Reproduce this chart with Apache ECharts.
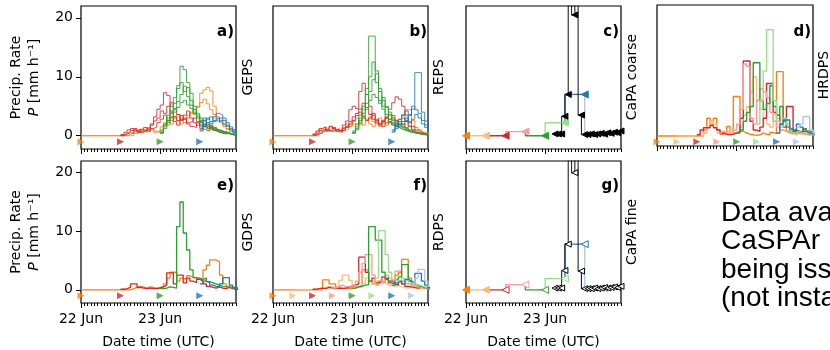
<!DOCTYPE html>
<html>
<head>
<meta charset="utf-8">
<script src="https://cdn.jsdelivr.net/npm/echarts@6/dist/echarts.min.js"></script>
<style>
  html, body { margin: 0; padding: 0; background: #fff; }
  #chart { width: 830px; height: 350px; }
</style>
</head>
<body>
<div id="chart"></div>
<script>
// hours since 22 Jun 00 UTC
const xTickHours = [0, 24];
const xTickLabels = ['22 Jun', '23 Jun'];
const yTickValues = [0, 10, 20];

// issuance colours (00, 06, 12, 18 UTC ...)
const issueColors = ['#ff7f0e', '#ffbb78', '#d62728', '#ff9896', '#2ca02c', '#98df8a', '#1f77b4', '#aec7e8'];
const issueHours12 = [0, 12, 24, 36];
const issueHours6 = [0, 6, 12, 18, 24, 30, 36, 42];

// a) GEPS members, hourly values from issue time
const gepsOrange = [
  [0,0,0,0,0,0,0,0,0,0,0,0,0,0,0.2,0.5,0.9,1.1,0.8,0.6,0.9,1.2,0.8,0.5,1.0,1.8,2.5,2.0,3.0,3.6,2.8,2.2,3.0,3.8,4.5,5.0,7.2,7.8,8.2,7.6,5.0,3.2,2.4,1.8,1.2,0.8,0.5,0.3],
  [0,0,0,0,0,0,0,0,0,0,0,0,0,0,0,0,0.4,0.7,0.5,0.9,1.3,1.0,0.6,0.8,1.5,2.2,1.8,2.6,3.2,2.5,2.0,2.8,3.4,4.0,3.6,4.8,5.6,6.2,5.4,4.4,3.6,2.8,2.2,1.6,1.1,0.7,0.4,0.2]
];
const gepsRed = [
  [0.2,0.6,1.0,0.8,1.2,0.7,0.9,1.4,1.0,2.0,3.2,4.5,5.2,7.3,6.8,4.0,3.2,2.6,3.4,2.8,2.2,2.5,3.0,2.4,1.8,2.0,1.6,1.2,1.5,1.0,0.8,0.6,0.4,0.3,0.2,0.1],
  [0.1,0.4,0.7,1.2,0.9,0.5,1.1,0.8,1.3,1.8,2.5,3.0,4.2,3.8,5.0,5.6,4.4,3.6,2.8,3.5,4.2,3.0,2.2,1.8,2.4,1.5,1.2,1.8,1.0,0.7,0.5,0.8,0.4,0.2,0.1,0],
  [0,0.3,0.5,0.4,0.8,1.0,0.6,0.9,0.7,1.2,1.5,2.2,2.8,3.5,2.6,3.2,2.4,1.8,2.6,3.0,2.0,1.6,1.4,2.2,1.2,1.0,0.8,1.4,0.9,0.6,0.4,0.3,0.5,0.2,0.1,0]
];
const gepsGreen = [
  [0.5,1.5,3.0,4.2,5.5,8.0,11.8,11.2,9.0,7.2,5.0,3.8,2.6,3.0,2.2,1.6,1.2,1.0,0.8,0.6,0.5,0.3,0.2,0.1],
  [0.8,2.0,3.5,5.0,6.5,8.5,9.0,7.5,8.2,6.0,4.4,3.2,2.4,1.8,2.0,1.4,1.0,0.8,0.6,0.7,0.4,0.3,0.2,0.1],
  [0.4,1.2,2.6,3.8,4.6,5.8,7.0,8.4,6.6,5.2,4.0,3.5,3.0,2.5,1.8,1.5,1.2,0.9,0.7,0.5,0.4,0.3,0.2,0.1],
  [0.6,1.8,2.2,3.0,4.0,4.8,5.6,6.0,5.2,4.6,3.8,3.0,2.2,1.6,1.2,1.0,0.8,0.6,0.5,0.4,0.3,0.2,0.1,0]
];
const gepsBlue = [
  [1.5,2.6,3.0,2.4,3.2,3.8,3.5,3.0,2.2,1.5,1.0,0.5],
  [1.0,2.0,2.8,3.2,2.6,2.4,3.0,2.6,1.8,1.2,0.8,0.4],
  [0.8,1.6,2.2,2.0,2.4,3.0,2.6,2.0,1.6,1.0,0.6,0.3]
];

// b) REPS members
const repsOrange = [
  [0,0,0,0,0,0,0,0,0,0,0,0,0,0.6,1.2,1.5,1.0,1.6,1.2,0.8,1.0,1.4,2.0,1.6,2.4,3.0,2.2,1.8,2.6,3.2,2.4,2.0,1.6,2.2,3.0,3.6,2.8,2.2,1.8,3.4,4.4,4.4,2.6,1.4,1.0,0.6,0.4,0.2],
  [0,0,0,0,0,0,0,0,0,0,0,0,0,0,0.4,0.9,1.3,0.8,1.1,0.7,0.5,0.9,1.2,1.6,2.0,1.8,2.6,3.4,2.8,2.0,1.6,2.4,3.0,2.2,1.8,2.4,2.0,1.6,2.8,3.6,2.4,1.6,1.0,0.7,0.5,0.3,0.2,0.1]
];
const repsRed = [
  [0.3,0.8,1.2,1.5,1.0,1.6,1.2,0.8,1.0,1.8,2.5,4.4,5.0,4.6,7.5,8.9,7.0,5.0,3.5,2.8,2.0,2.6,3.0,2.2,1.8,1.5,1.2,1.0,0.8,0.6,0.5,0.4,0.3,0.2,0.1,0.1],
  [0.2,0.5,0.9,1.2,0.8,1.0,1.4,1.0,0.7,1.2,1.6,2.4,3.2,3.8,4.5,5.5,4.8,3.6,2.8,2.2,1.8,2.4,3.2,4.5,5.6,6.6,6.2,5.0,3.5,2.4,1.6,1.0,0.7,0.4,0.2,0.1],
  [0.1,0.3,0.6,0.8,1.0,0.7,0.9,1.2,0.8,1.0,1.4,2.0,2.6,3.4,4.0,3.2,2.6,3.0,3.8,2.6,2.0,1.6,2.2,2.8,3.4,2.6,2.0,1.8,2.4,1.6,1.0,0.6,0.4,0.3,0.2,0.1]
];
const repsGreen = [
  [0.8,2.0,3.5,5.0,8.0,16.9,16.9,9.0,6.0,4.5,3.0,2.4,2.0,1.5,1.2,1.0,0.8,0.6,0.5,0.4,0.3,0.2,0.2,0.1],
  [0.6,1.5,3.0,4.5,7.0,10.0,12.5,11.0,7.5,5.0,3.6,2.8,2.2,1.8,2.4,1.6,1.2,0.8,0.6,0.5,0.4,0.3,0.2,0.1],
  [0.5,1.2,2.5,3.8,5.5,7.5,9.5,10.5,8.0,6.0,4.8,3.5,2.6,2.0,1.6,2.0,1.4,1.0,0.7,0.5,0.4,0.3,0.2,0.1],
  [0.4,1.0,2.0,3.0,4.5,6.0,7.0,6.5,5.5,6.5,5.0,4.0,3.0,2.4,1.8,1.4,1.0,0.8,0.6,0.4,0.3,0.2,0.1,0.1]
];
const repsBlue = [
  [1.0,2.0,2.8,3.5,4.2,3.6,4.5,10.7,10.7,4.0,2.5,1.2],
  [0.8,1.6,2.4,3.0,2.6,3.4,5.0,4.4,3.8,2.6,1.8,1.0],
  [0.6,1.2,2.0,2.4,3.0,2.2,2.8,3.6,3.0,2.0,1.4,0.8]
];

// d) HRDPS, one run per 6 h issuance
const hrdpsRuns = [
  [0,0,0,0,0,0,0,0,0,0,0,0,0,0,1.0,3.0,2.0,3.0,1.0,0.3,0.5,1.6,0.4,6.7,6.7,0.8,0.5,0.3,0.2,0.1,0.2,0.5,0.3,0.2,0.6,0.4,10.9,10.9,2.5,0.8,0.5,0.3,0.6,0.4,0.3,0.2,0.3,0.2],
  [0,0,0,0,0,0,0,0,0.5,1.5,2.5,2.0,1.0,0.5,0.3,0.8,1.2,0.5,0.8,1.5,3.5,5.0,7.5,10.0,6.0,4.5,3.0,2.0,1.5,4.0,3.0,1.0,0.8,0.5,0.3,0.6,0.4,0.3,0.5,0.8,0.6,0.3],
  [0.2,1.0,1.4,1.4,1.8,1.4,1.0,0.5,0.3,0.2,0.3,0.5,0.8,3.0,12.7,12.7,2.5,1.0,0.8,1.5,3.0,8.9,8.9,4.0,3.5,2.0,1.5,5.0,5.0,1.0,0.8,0.6,1.2,0.8,0.5,0.3],
  [0.5,0.8,0.6,0.4,0.5,1.0,2.0,4.5,12.2,11.8,3.0,2.0,6.0,8.0,7.5,6.5,4.0,2.5,1.5,1.0,0.8,0.5,0.4,0.6,0.8,0.5,0.3,0.4,0.2,0.1],
  [0.5,1.0,2.5,4.0,5.0,12.4,12.4,6.0,4.5,5.5,8.5,5.0,3.5,5.0,2.5,1.5,1.0,0.6,0.4,0.6,1.2,0.8,0.6,0.4],
  [2.0,6.0,11.0,18.0,18.0,6.0,2.5,1.5,3.0,2.0,1.0,0.6,0.4,0.5,0.8,0.6,0.3,0.2],
  [0.5,2.0,2.7,2.7,1.2,0.8,2.0,1.5,0.8,0.5,0.4,0.3],
  [1.5,2.0,3.3,3.3,1.0,0.5]
];

// e) GDPS, one run per 12 h issuance
const gdpsRuns = [
  [0,0,0,0,0,0,0,0,0,0,0,0,0,0,0,0.2,0.4,0.6,0.5,0.3,0.5,0.4,0.3,0.4,0.6,1.0,2.0,3.0,3.0,1.5,2.0,1.8,2.4,2.2,2.0,1.8,1.6,3.4,4.2,5.1,5.1,4.8,2.5,1.0,0.6,0.4,0.3,0.2],
  [0.1,0.2,0.4,1.0,1.0,0.4,0.3,0.2,0.3,0.2,0.2,0.3,0.5,0.8,2.9,2.9,1.0,2.5,2.5,1.2,2.0,1.5,1.2,1.8,1.5,1.0,0.6,0.4,0.3,0.5,0.3,0.2,0.4,0.2,0.1,0.1],
  [0.2,0.3,0.5,0.4,0.3,10.8,15.0,9.7,6.8,3.4,2.1,2.0,1.8,2.0,1.4,1.2,1.0,0.8,0.6,0.5,0.4,0.3,0.3,0.2],
  [1.0,1.5,1.2,0.8,0.6,0.5,1.0,2.1,2.1,0.8,0.4,0.2]
];

// f) RDPS, one run per 6 h issuance
const rdpsRuns = [
  [0,0,0,0,0,0,0,0,0,0,0,0,0,0,0,1.7,1.7,1.0,1.0,0.4,0.3,0.2,0.3,0.2,0.3,0.5,0.8,3.4,3.4,1.5,1.0,0.8,1.2,1.5,2.0,1.5,1.8,2.5,3.0,5.2,5.2,2.0,1.0,0.6,0.4,0.3,0.2,0.1],
  [0,0,0,0,0,0,0,0,0.2,0.4,0.6,0.5,0.4,0.6,1.6,2.5,2.5,1.6,0.6,0.4,0.5,1.0,2.0,1.5,1.2,0.8,1.5,1.2,0.9,0.7,0.6,0.8,0.5,0.4,0.3,0.4,0.3,0.2,0.2,0.3,0.2,0.1],
  [0.1,0.2,0.3,0.2,0.4,0.3,0.2,0.3,0.2,0.3,0.4,0.6,0.8,1.0,5.6,5.6,3.0,1.5,2.0,1.2,1.5,2.2,1.8,1.2,1.0,0.8,1.5,1.0,0.6,0.5,0.4,0.3,0.5,0.3,0.2,0.1],
  [0.3,0.5,0.8,0.6,0.5,0.4,0.8,1.5,3.0,4.5,6.0,6.0,2.5,1.5,1.8,1.2,2.5,2.0,1.6,3.2,3.2,1.5,1.0,0.8,0.6,0.5,0.4,0.3,0.2,0.1],
  [0.3,0.5,0.6,0.8,0.9,10.8,10.8,8.5,8.5,3.0,2.0,1.5,1.2,1.8,2.2,4.3,4.3,1.5,1.0,0.8,0.6,0.4,0.3,0.2],
  [1.0,2.0,10.1,10.1,6.0,3.0,1.8,1.5,1.2,2.0,1.6,1.0,0.8,0.9,0.7,0.5,0.4,0.3],
  [0.8,1.2,1.5,1.0,1.8,1.5,1.2,2.8,2.8,1.5,0.8,0.4],
  [1.0,2.0,3.5,3.5,1.5,0.6]
];

// c), g) CaPA: 6 h analyses (coloured) and hourly analyses (black)
const capaHours6 = [0, 6, 12, 18, 24, 30, 36, 42];
const capaCoarse6 = [0, 0, 0, 0.7, 0, 2.2, 7.0, 0.2];
const capaFine6 = [0, 0, 0, 0.9, 0, 1.9, 7.8, 0.2];
const capaHours1 = [27,28,29,30,31,32,33,34,35,36,37,38,39,40,41,42,43,44,45,46,47];
const capaCoarse1 = [0.3,0.3,0.3,3.3,7.0,28,20.5,28,3.5,0.2,0.2,0.3,0.2,0.3,0.4,0.3,0.5,0.4,0.6,0.5,0.8];
const capaFine1 = [0.3,0.3,0.3,3.3,7.8,28,20.0,28,3.2,0.2,0.2,0.2,0.3,0.2,0.3,0.4,0.3,0.4,0.5,0.4,0.6];

const noteLines = ['Data available from', 'CaSPAr', 'being issued', '(not instantaneous)'];

const hourTicks = Array.from({ length: 48 }, (_, i) => i);
const FONT = '"DejaVu Sans", sans-serif';
const TRI_RIGHT = 'path://M0,0L10,5L0,10Z';
const TRI_LEFT = 'path://M10,0L0,5L10,10Z';

const panels = [
  { key: 'a', left: 81, top: 6, width: 155, height: 143, yMin: -2.25, yMax: 22, yLabels: true, xLabels: false },
  { key: 'b', left: 273, top: 6, width: 155, height: 143, yMin: -2.25, yMax: 22, yLabels: false, xLabels: false },
  { key: 'c', left: 466, top: 6, width: 155, height: 143, yMin: -2.25, yMax: 22, yLabels: false, xLabels: false },
  { key: 'd', left: 657, top: 5, width: 156, height: 141, yMin: -1.7, yMax: 22.2, yLabels: false, xLabels: false },
  { key: 'e', left: 81, top: 161, width: 155, height: 143, yMin: -2.25, yMax: 22, yLabels: true, xLabels: true },
  { key: 'f', left: 273, top: 161, width: 155, height: 143, yMin: -2.25, yMax: 22, yLabels: false, xLabels: true },
  { key: 'g', left: 466, top: 161, width: 155, height: 143, yMin: -2.25, yMax: 22, yLabels: false, xLabels: true }
];

const grid = [];
const xAxis = [];
const yAxis = [];
panels.forEach((p, i) => {
  grid.push({ left: p.left, top: p.top, width: p.width, height: p.height, show: true,
    borderColor: '#000', borderWidth: 1.2, backgroundColor: 'transparent' });
  // hourly minor ticks
  xAxis.push({ gridIndex: i, type: 'value', min: 0, max: 47, position: 'bottom',
    axisLine: { show: false, onZero: false }, splitLine: { show: false },
    axisTick: { show: true, customValues: hourTicks, length: 3, lineStyle: { color: '#000', width: 1 } },
    axisLabel: { show: false } });
  // day ticks and labels
  xAxis.push({ gridIndex: i, type: 'value', min: 0, max: 47, position: 'bottom',
    axisLine: { show: false, onZero: false }, splitLine: { show: false },
    axisTick: { show: true, customValues: xTickHours, length: 5, lineStyle: { color: '#000', width: 1 } },
    axisLabel: { show: p.xLabels, customValues: xTickHours, margin: 9, fontSize: 14, color: '#000', fontFamily: FONT,
      formatter: v => xTickLabels[xTickHours.indexOf(v)] },
    name: p.xLabels ? 'Date time (UTC)' : '', nameLocation: 'middle', nameGap: 32,
    nameTextStyle: { fontSize: 14, color: '#000', fontFamily: FONT } });
  yAxis.push({ gridIndex: i, type: 'value', min: p.yMin, max: p.yMax,
    axisLine: { show: false, onZero: false }, splitLine: { show: false },
    axisTick: { show: p.yLabels, customValues: yTickValues, length: 5, lineStyle: { color: '#000' } },
    axisLabel: { show: p.yLabels, customValues: yTickValues, margin: 8, fontSize: 14, color: '#000', fontFamily: FONT },
    name: p.yLabels ? 'Precip. Rate\n{i|P} [mm h\u207B\u00B9]' : '', nameLocation: 'middle', nameRotate: 90, nameGap: 38,
    nameTextStyle: { fontSize: 14, color: '#000', fontFamily: FONT, lineHeight: 18,
      rich: { i: { fontStyle: 'italic', fontSize: 14, color: '#000', fontFamily: FONT } } } });
});

const series = [];

function runLine(panel, startHour, values, color, width, opacity) {
  const data = values.map((v, k) => [startHour + k, v]);
  data.push([startHour + values.length, values[values.length - 1]]);
  series.push({ type: 'line', xAxisIndex: panel * 2, yAxisIndex: panel, step: 'end', data,
    showSymbol: false, symbol: 'none', silent: true,
    lineStyle: { color, width, opacity } });
}

function issueMarks(panel, hours, colors) {
  series.push({ type: 'scatter', xAxisIndex: panel * 2, yAxisIndex: panel, symbol: TRI_RIGHT, symbolSize: [7, 7],
    data: hours.map((h, k) => ({ value: [h, -1], itemStyle: { color: colors[k] } })) });
}

function ensemble(panel, groups, colorIdx) {
  groups.forEach((members, k) => {
    members.forEach(m => runLine(panel, issueHours12[k], m, issueColors[colorIdx[k]], 1, 0.85));
  });
}

// a) GEPS
ensemble(0, [gepsOrange, gepsRed, gepsGreen, gepsBlue], [0, 2, 4, 6]);
issueMarks(0, issueHours12, [0, 2, 4, 6].map(c => issueColors[c]));
// b) REPS
ensemble(1, [repsOrange, repsRed, repsGreen, repsBlue], [0, 2, 4, 6]);
issueMarks(1, issueHours12, [0, 2, 4, 6].map(c => issueColors[c]));
// d) HRDPS
hrdpsRuns.forEach((r, k) => runLine(3, issueHours6[k], r, issueColors[k], 1.4, 1));
issueMarks(3, issueHours6, issueColors);
// e) GDPS
gdpsRuns.forEach((r, k) => runLine(4, issueHours12[k], r, issueColors[[0, 2, 4, 6][k]], 1.3, 1));
issueMarks(4, issueHours12, [0, 2, 4, 6].map(c => issueColors[c]));
// f) RDPS
rdpsRuns.forEach((r, k) => runLine(5, issueHours6[k], r, issueColors[k], 1.3, 1));
issueMarks(5, issueHours6, issueColors);

// c), g) CaPA
function capa(panel, values6, values1, hollow) {
  capaHours6.forEach((h, k) => {
    const data = [];
    if (k > 0) data.push({ value: [capaHours6[k - 1], values6[k - 1]], symbol: 'none' });
    data.push({ value: [h, values6[k]] });
    series.push({ type: 'line', xAxisIndex: panel * 2, yAxisIndex: panel, step: 'start', data,
      showSymbol: true, showAllSymbol: true, symbol: TRI_LEFT, symbolSize: [7, 7], silent: true,
      lineStyle: { color: issueColors[k], width: 1.3 },
      itemStyle: { color: hollow && k > 1 ? '#fff' : issueColors[k], borderColor: issueColors[k], borderWidth: 1 } });
  });
  series.push({ type: 'line', xAxisIndex: panel * 2, yAxisIndex: panel, step: 'start',
    data: capaHours1.map((h, k) => [h, values1[k]]),
    showSymbol: true, showAllSymbol: true, symbol: TRI_LEFT, symbolSize: [6, 6], silent: true,
    lineStyle: { color: '#000', width: 1.1, opacity: 0.85 },
    itemStyle: { color: hollow ? '#fff' : '#000', borderColor: '#000', borderWidth: 1 } });
}
capa(2, capaCoarse6, capaCoarse1, false);
capa(6, capaFine6, capaFine1, true);

function txt(x, y, text, opts) {
  return Object.assign({ type: 'text', x, y, silent: true,
    style: Object.assign({ text, fill: '#000', font: '14px ' + FONT,
      align: 'center', verticalAlign: 'middle', textAlign: 'center', textVerticalAlign: 'middle' }, opts || {}) });
}
function vtxt(x, y, text) {
  const t = txt(x, y, text);
  t.rotation = Math.PI / 2;
  return t;
}
function label(x, y, text) {
  return txt(x, y, text, { font: 'bold 15px ' + FONT, align: 'right', textAlign: 'right' });
}
function note(y, text) {
  return txt(721, y, text, { font: '28px "Liberation Sans", Arial, sans-serif', align: 'left', textAlign: 'left' });
}

const graphic = [
  vtxt(248, 77, 'GEPS'), vtxt(439, 77, 'REPS'), vtxt(632, 77, 'CaPA coarse'), vtxt(824, 75, 'HRDPS'),
  vtxt(248, 232, 'GDPS'), vtxt(439, 232, 'RDPS'), vtxt(632, 232, 'CaPA fine'),
  label(234, 32, 'a)'), label(427, 32, 'b)'), label(619, 32, 'c)'), label(811, 32, 'd)'),
  label(234, 186, 'e)'), label(427, 186, 'f)'), label(619, 186, 'g)')
].concat(noteLines.map((t, k) => note(213 + k * 28.4, t)));

const chart = echarts.init(document.getElementById('chart'));
chart.setOption({
  animation: false,
  backgroundColor: '#fff',
  grid, xAxis, yAxis, series, graphic
});
</script>
</body>
</html>
